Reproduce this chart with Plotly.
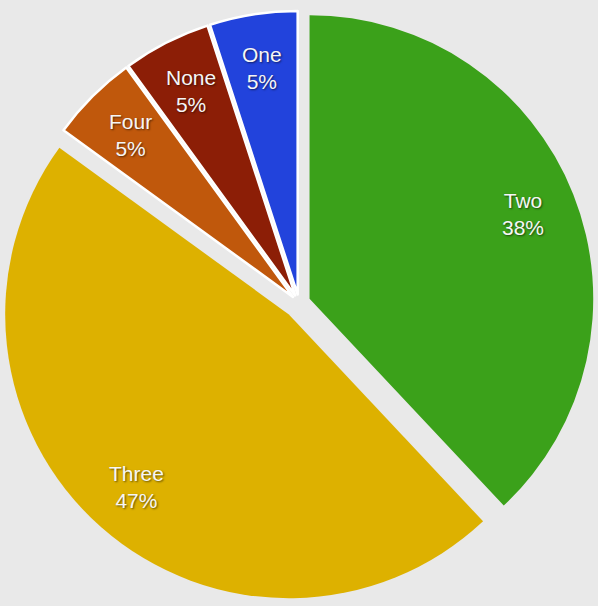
import math
import plotly.graph_objects as go

labels = ["Two", "Three", "Four", "None", "One"]
values = [38, 47, 5, 5, 5]
colors = ["#3ba11a", "#ddb100", "#c0580c", "#8c1e06", "#2243dc"]
pulls = [0.04, 0.054, 0.03, 0.03, 0.03]
line_colors = ["#3ba11a", "#ddb100", "#ffffff", "#ffffff", "#ffffff"]
line_widths = [0, 0, 2.5, 2.5, 2.5]

W, H = 598, 606
DOM_Y = [0.0, 1.0]
LABEL_R = 0.81
FONT = dict(family="Liberation Sans, Arial, sans-serif", size=21, color="#f6f6f6",
            shadow="1px 1px 2px rgba(0,0,0,0.55)")

# pie geometry (same rules plotly uses) to put the labels at a fixed radius
box_h = H * (DOM_Y[1] - DOM_Y[0])
r = min(W, box_h) / (2 + 2 * max(pulls))
cx = W / 2
cy = H * (DOM_Y[0] + DOM_Y[1]) / 2  # from bottom

total = sum(values)
annotations = []
cum = 0
for lab, v, p in zip(labels, values, pulls):
    pct = f"{round(100 * v / total)}%"
    mid = 2 * math.pi * (cum + v / 2) / total
    cum += v
    dist = (p + LABEL_R) * r
    x = (cx + dist * math.sin(mid)) / W
    y = (cy + dist * math.cos(mid)) / H
    annotations.append(dict(x=x, y=y, xref="paper", yref="paper",
                            xanchor="center", yanchor="middle",
                            text=f"{lab}<br>{pct}", showarrow=False,
                            font=FONT, align="center"))

fig = go.Figure(go.Pie(
    labels=labels,
    values=values,
    sort=False,
    direction="clockwise",
    rotation=0,
    pull=pulls,
    marker=dict(colors=colors, line=dict(color=line_colors, width=line_widths)),
    textinfo="none",
    hoverinfo="label+percent",
    showlegend=False,
    domain=dict(x=[0, 1], y=DOM_Y),
))

fig.update_layout(
    width=W, height=H,
    margin=dict(l=0, r=0, t=0, b=0),
    paper_bgcolor="#e9e9e9",
    plot_bgcolor="#e9e9e9",
    annotations=annotations,
)

fig.write_html(
    "out.html",
    config={"displayModeBar": False},
    post_script="document.body.style.margin='0';document.body.style.overflow='hidden';"
                "document.body.style.background='#e9e9e9';",
)
